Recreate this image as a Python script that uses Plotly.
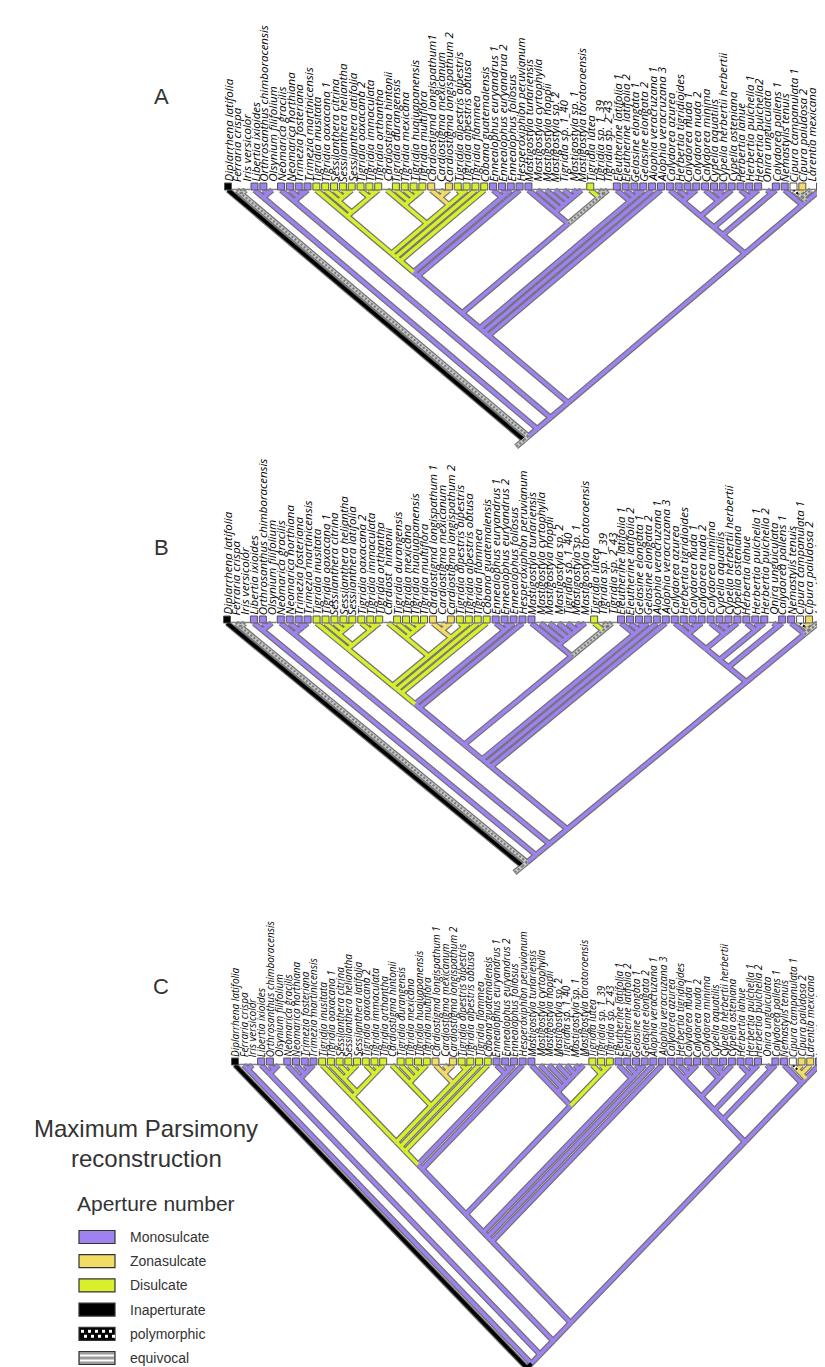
import plotly.graph_objects as go

# ---------------- DATA ----------------
TAXA_A = [
    "Diplarrhena latifolia", "Ferraria crispa", "Iris versicolor", "Libertia ixioides",
    "Orthrosanthus chimboracensis", "Olsynium filifolium", "Neomarica gracilis",
    "Neomarica northiana", "Trimezia fosteriana", "Trimezia martinicensis",
    "Tigridia inusitata", "Tigridia oaxacana 1", "Sessilanthera citrina",
    "Sessilanthera heliantha", "Sessilanthera latifolia", "Tigridia oaxacana 2",
    "Tigridia immaculata", "Tigridia orthantha", "Cardiostigma hintonii",
    "Tigridia durangensis", "Tigridia mexicana", "Tigridia huajuapanensis",
    "Tigridia multiflora", "Cardiostigma longispathum1", "Cardiostigma mexicanum",
    "Cardiostigma longispathum 2", "Tigridia alpestris alpestris", "Tigridia alpestris obtusa",
    "Tigridia flammea", "Cobana guatemalensis", "Ennealophus euryandrus 1",
    "Ennealophus euryandrua 2", "Ennealophus foliosus", "Hesperoxiphion peruvianum",
    "Mastigostyla tunariensis", "Mastigostyla cyrtophylla", "Mastigostyla hoppii",
    "Mastigostyla sp. 2", "Tigridia sp. 1_40", "Mastigostyla sp. 1",
    "Mastigostyla torotoroensis", "Tigridia lutea", "Tigridia sp. 1_39", "Tigridia sp. 2_43",
    "Eleutherine latifolia 1", "Eleutherine latifolia 2", "Gelasine elongata 1",
    "Gelasine elongata 2", "Alophia veracruzana 1", "Alophia veracruzana 3",
    "Calydorea azurea", "Herbertia tigridioides", "Calydorea nuda 1", "Calydorea nuda 2",
    "Calydorea minima", "Cypella aquatilis", "Cypella herbertii herbertii",
    "Cypella osteniana", "Herbertia lahue", "Herbertia pulchella 1", "Herbertia pulchella2",
    "Onira unguiculata", "Calydorea pallens 1", "Nemastylis tenuis",
    "Cipura campanulata 1", "Cipura paludosa 2", "Larentia mexicana", "Larentia rosei",
]
TAXA_C = [t.replace("longispathum1", "longispathum 1").replace("euryandrua", "euryandrus")
          .replace("pulchella2", "pulchella 2") for t in TAXA_A]
TAXA_B = [t.replace("Cardiostigma hintonii", "Cardiost  hintonii") for t in TAXA_C[:67]]

# observed tip states: M monosulcate, Z zonasulcate, D disulcate, I inaperturate,
# P polymorphic, '-' no data (branch takes reconstructed state)
TIPS_A = "I--MM-MMMM" + "DDDDDDDD" + "-DDDDZ-ZDDDD" + "MMMMM------D--" + "MMMMMMMMMMMMMMMMM" + "-MMPZ-M"
TIPS_B = "I--MM-MMMM" + "DDDDDDDD" + "-DDDDZ-ZDDDD" + "MMMMM------D--" + "MMMMMMMMMMMMMMMMM" + "-MMPZ-"
TIPS_C = "I--MM-MMMM" + "DDDDDDDD" + "-DDDDZ-ZDDDD" + "MMMMM------DDD" + "MMMMMMMMMMMMMMMMM" + "-MMPZZM"

# clades (Newick, tips = taxon numbers, letter after ')' = reconstructed state)
A_TIGL = "(11,((12,(13,(14,15))),(16,(17,18))))"
A_TIGM = "((19,(20,(21,(22,23)))),((24,(25,26))Z,(27,28)D)D)"
A_YC = "(((" + A_TIGL + "," + A_TIGM + ")D,29)D,30)D"
A_MAS = "((35,(36,(37,(38,(39,(40,41)))))),(42,(43,44)E)E)M"
A_ELE = "(45,(46,(47,48)))M"
A_TIG = "((((((" + A_YC + ",(31,(32,33))M)M,34)M," + A_MAS + ")M," + A_ELE + ")M,49)M,50)M"
A_CIP = "(((((51,(52,(53,54))),(55,((56,57),58))),(59,(60,61))),(62,63)),(64,(((65,66)E,67)E,68)))M"
TREE_A = "(1,((2,3)E,((4,(5,6)),((7,(8,(9,10))),(" + A_TIG + "," + A_CIP + ")))M)E)E"

B_CIP = "(((((51,(52,(53,54))),(55,((56,57),58))),(59,(60,61))),(62,63)),(64,((65,66)E,67)E))M"
TREE_B = "(1,((2,3)E,((4,(5,6)),((7,(8,(9,10))),(" + A_TIG + "," + B_CIP + ")))M)E)E"

C_MAS = "((35,(36,(37,(38,(39,(40,41)))))),(42,(43,44))D)M"
C_TIG = "((((((" + A_YC + ",(31,(32,33))M)M,34)M," + C_MAS + ")M," + A_ELE + ")M,49)M,50)M"
C_CIP = "(((((51,(52,(53,54))),(55,((56,57),58))),(59,(60,61))),(62,63)),(64,(((65,66)Z,67)Z,68)))M"
TREE_C = "(1,((2,3)M,((4,(5,6)),((7,(8,(9,10))),(" + C_TIG + "," + C_CIP + ")))M)I)E"

PANELS = ["A", "B", "C"]
TAXA = [TAXA_A, TAXA_B, TAXA_C]
TREES = [TREE_A, TREE_B, TREE_C]
TIPS = [TIPS_A, TIPS_B, TIPS_C]
LABEL_SIZE = [11.5, 11.5, 10]
# pixel geometry: first tip x, last tip x, tip row y, root y, panel top, panel bottom, letter y
GEOM = [
    (220, 812, 182, 432, 0, 445, 88),
    (219, 810, 615, 858, 445, 885, 540),
    (227, 811, 1057, 1360, 885, 1367, 978),
]

COL = {"M": "#9d82f0", "Z": "#f3dc66", "D": "#d7ef2c", "I": "#000000",
       "E": "#c9c9c9", "P": "#ffffff"}

LEGEND = [("Monosulcate", "M"), ("Zonasulcate", "Z"), ("Disulcate", "D"),
          ("Inaperturate", "I"), ("polymorphic", "P"), ("equivocal", "E")]

W, H = 825, 1367


# ---------------- helpers ----------------
def parse(s):
    s = s.replace(" ", "")
    pos = [0]

    def node():
        if s[pos[0]] == "(":
            pos[0] += 1
            kids = [node()]
            while pos[0] < len(s) and s[pos[0]] == ",":
                pos[0] += 1
                kids.append(node())
            pos[0] += 1  # ')'
            st = None
            if pos[0] < len(s) and s[pos[0]].isalpha():
                st = s[pos[0]]
                pos[0] += 1
            return {"kids": kids, "state": st}
        j = pos[0]
        while pos[0] < len(s) and s[pos[0]].isdigit():
            pos[0] += 1
        return {"tip": int(s[j:pos[0]]), "state": None}

    return node()


def layout_tree(nd, tips, parent_state):
    if "tip" in nd:
        c = tips[nd["tip"] - 1] if nd["tip"] - 1 < len(tips) else "-"
        nd["st"] = c if c in "MZDIPE" else parent_state
        nd["l"] = nd["r"] = nd["tip"]
    else:
        nd["st"] = nd["state"] or parent_state
        for k in nd["kids"]:
            layout_tree(k, tips, nd["st"])
        nd["l"] = min(k["l"] for k in nd["kids"])
        nd["r"] = max(k["r"] for k in nd["kids"])
    nd["x"] = (nd["l"] + nd["r"]) / 2.0
    nd["d"] = (nd["r"] - nd["l"]) / 2.0


def segments(nd, out):
    for k in nd.get("kids", []):
        out.append(((nd["x"], -nd["d"]), (k["x"], -k["d"]), k["st"]))
        segments(k, out)


def P(x, y):
    return x / W, 1 - y / H


fig = go.Figure()
annotations = []
lay = dict(width=W, height=H, margin=dict(l=0, r=0, t=0, b=0),
           paper_bgcolor="white", plot_bgcolor="white", showlegend=False)

for p, (name, taxa, tree, tips, g) in enumerate(zip(PANELS, TAXA, TREES, TIPS, GEOM)):
    x1, xn, ty, ry, top, bot, ly = g
    ntax = len(taxa)
    root = parse(tree)
    layout_tree(root, tips, root["state"] or "M")
    sx = (xn - x1) / (ntax - 1)
    sy = (ry - ty) / root["d"]
    xa = "x" if p == 0 else "x%d" % (p + 1)
    ya = "y" if p == 0 else "y%d" % (p + 1)
    xkey = "xaxis" if p == 0 else "xaxis%d" % (p + 1)
    ykey = "yaxis" if p == 0 else "yaxis%d" % (p + 1)
    lay[xkey] = dict(domain=[0, 1], range=[1 - x1 / sx, 1 + (W - x1) / sx],
                     visible=False, fixedrange=True, anchor=ya)
    lay[ykey] = dict(domain=[1 - bot / H, 1 - top / H],
                     range=[-(bot - ty) / sy, (ty - top) / sy],
                     visible=False, fixedrange=True, anchor=xa)

    segs = []
    segments(root, segs)
    segs.append(((root["x"], -root["d"]), (root["x"] - 0.9, -root["d"] - 0.9), root["st"]))

    ox, oy = [], []
    for a, b, st in segs:
        ox += [a[0], b[0], None]
        oy += [a[1], b[1], None]
    fig.add_trace(go.Scatter(x=ox, y=oy, mode="lines", xaxis=xa, yaxis=ya,
                             line=dict(color="#707070", width=6), hoverinfo="skip"))
    for st in ["M", "Z", "D", "I", "E", "P"]:
        fx, fy = [], []
        for a, b, s2 in segs:
            if s2 == st:
                fx += [a[0], b[0], None]
                fy += [a[1], b[1], None]
        if not fx:
            continue
        fig.add_trace(go.Scatter(x=fx, y=fy, mode="lines", xaxis=xa, yaxis=ya,
                                 line=dict(color=COL[st], width=3.6), hoverinfo="skip"))
        if st in "EP":
            fig.add_trace(go.Scatter(x=fx, y=fy, mode="lines", xaxis=xa, yaxis=ya,
                                     line=dict(color="#7a7a7a" if st == "E" else "#000000",
                                               width=2.2, dash="2px,2px"),
                                     hoverinfo="skip"))

    off = 3.5 / sy
    for st in ["M", "Z", "D", "I", "P", "E"]:
        xs = [i + 1 for i in range(ntax) if i < len(tips) and tips[i] == st]
        if not xs:
            continue
        fig.add_trace(go.Scatter(x=xs, y=[off] * len(xs), mode="markers", xaxis=xa, yaxis=ya,
                                 marker=dict(symbol="square", size=7, color=COL[st],
                                             line=dict(color="#555555", width=1)),
                                 hoverinfo="skip"))
    xs = [i + 1 for i in range(ntax) if i >= len(tips) or tips[i] not in "MZDIPE"]
    fig.add_trace(go.Scatter(x=xs, y=[0.15 * off] * len(xs), mode="markers", xaxis=xa, yaxis=ya,
                             marker=dict(symbol="line-ew", size=7, line=dict(color="#808080", width=1.5)),
                             hoverinfo="skip"))

    for i, t in enumerate(taxa):
        annotations.append(dict(x=i + 1, y=7.0 / sy, xref=xa, yref=ya, text="<i>%s</i>" % t,
                                showarrow=False, textangle=-90, xanchor="center", yanchor="bottom",
                                borderpad=0,
                                font=dict(family="Open Sans", size=LABEL_SIZE[p], color="#000000")))
    lx, lyp = P(153, ly)
    annotations.append(dict(x=lx, y=lyp, xref="paper", yref="paper", text=name,
                            showarrow=False, xanchor="center", yanchor="middle",
                            font=dict(family="Liberation Sans", size=22, color="#333333")))

# legend texts
for txt, cx, cy, fs in [("Maximum Parsimony", 138, 1120, 24), ("reconstruction", 138, 1150, 24),
                        ("Aperture number", 148, 1195, 21)]:
    px_, py_ = P(cx, cy)
    annotations.append(dict(x=px_, y=py_, xref="paper", yref="paper", text=txt, showarrow=False,
                            xanchor="center", yanchor="middle",
                            font=dict(family="Liberation Sans", size=fs, color="#333333")))
shapes = []
for j, (lab, st) in enumerate(LEGEND):
    cy = 1229 + j * 24.2
    fill = {"P": "#000000", "E": "#9a9a9a"}.get(st, COL[st])
    shapes.append(dict(type="rect", xref="paper", yref="paper", x0=71 / W, x1=107 / W,
                       y0=1 - (cy + 6.5) / H, y1=1 - (cy - 6.5) / H,
                       fillcolor=fill, line=dict(color="#333333", width=1.2)))
    if st == "P":
        for r in range(2):
            for c in range(5):
                px = 73 + c * 7 + (r % 2) * 3
                py = cy - 4 + r * 5
                shapes.append(dict(type="rect", xref="paper", yref="paper",
                                   x0=px / W, x1=(px + 3) / W, y0=1 - (py + 3) / H, y1=1 - py / H,
                                   fillcolor="white", line=dict(width=0)))
    if st == "E":
        for yy in (cy - 2.5, cy + 2.5):
            shapes.append(dict(type="line", xref="paper", yref="paper", x0=72 / W, x1=106 / W,
                               y0=1 - yy / H, y1=1 - yy / H, line=dict(color="white", width=2)))
    px_, py_ = P(120, cy)
    annotations.append(dict(x=px_, y=py_, xref="paper", yref="paper", text=lab,
                            showarrow=False, xanchor="left", yanchor="middle",
                            font=dict(family="Liberation Sans", size=14, color="#333333")))

lay["annotations"] = annotations
lay["shapes"] = shapes
fig.update_layout(**lay)
fig.write_html("out.html")
